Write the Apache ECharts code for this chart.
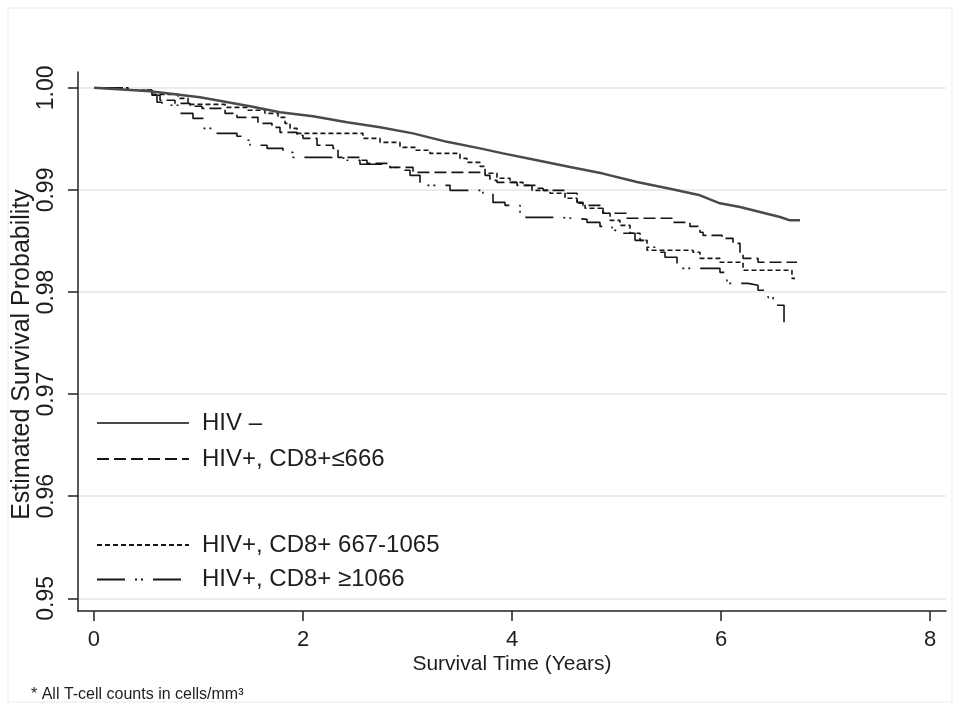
<!DOCTYPE html>
<html><head><meta charset="utf-8">
<script src="https://cdn.jsdelivr.net/npm/echarts@6/dist/echarts.min.js"></script>
<style>html,body{margin:0;padding:0;background:#fff}#c{width:959px;height:707px}</style>
</head><body><div id="c"></div>
<script>
const seriesNames = ['HIV –', 'HIV+, CD8+≤666', 'HIV+, CD8+ 667-1065', 'HIV+, CD8+ ≥1066'];
const xTicks = [0, 2, 4, 6, 8];
const yTicks = [0.95, 0.96, 0.97, 0.98, 0.99, 1.00];

const hivNegTime = [0, 0.536, 1.014, 1.493, 1.780, 2.096, 2.421, 2.737, 3.053, 3.378, 3.694, 3.914, 4.239, 4.555, 4.871, 5.196, 5.512, 5.799, 5.990, 6.182, 6.373, 6.565, 6.660, 6.756];
const hivNegSurv = [1.0, 0.99966, 0.99907, 0.99819, 0.99760, 0.99721, 0.99662, 0.99613, 0.99554, 0.99471, 0.99407, 0.99358, 0.99290, 0.99224, 0.99160, 0.99077, 0.99011, 0.98947, 0.98869, 0.98833, 0.98784, 0.98735, 0.98702, 0.98702];

const lowTime = [0, 0.325, 0.555, 0.632, 0.775, 0.919, 1.033, 1.254, 1.368, 1.569, 1.703, 1.780, 1.943, 2.000, 2.134, 2.287, 2.335, 2.545, 2.612, 2.833, 3.053, 3.742, 3.789, 3.856, 4.048, 4.239, 4.297, 4.526, 4.622, 4.679, 4.871, 5.100, 5.531, 5.703, 5.799, 5.828, 6.010, 6.115, 6.182, 6.211, 6.354, 6.727];
const lowSurv = [1.0, 0.99976, 0.99927, 0.99878, 0.99848, 0.99819, 0.99799, 0.99750, 0.99711, 0.99652, 0.99613, 0.99564, 0.99535, 0.99505, 0.99437, 0.99407, 0.99319, 0.99290, 0.99260, 0.99221, 0.99172, 0.99143, 0.99094, 0.99074, 0.99045, 0.99016, 0.98996, 0.98967, 0.98878, 0.98849, 0.98771, 0.98722, 0.98682, 0.98643, 0.98585, 0.98555, 0.98526, 0.98477, 0.98379, 0.98330, 0.98291, 0.98291];

const midTime = [0, 0.325, 0.555, 0.804, 0.900, 1.254, 1.474, 1.636, 1.761, 1.828, 1.876, 1.943, 2.574, 2.737, 2.928, 3.072, 3.215, 3.502, 3.569, 3.694, 3.742, 3.856, 3.981, 4.105, 4.191, 4.364, 4.507, 4.622, 4.699, 4.871, 4.938, 5.033, 5.129, 5.225, 5.292, 5.732, 5.799, 5.990, 6.211, 6.679, 6.708];
const midSurv = [1.0, 0.99976, 0.99936, 0.99897, 0.99838, 0.99809, 0.99780, 0.99750, 0.99711, 0.99652, 0.99603, 0.99554, 0.99505, 0.99466, 0.99417, 0.99388, 0.99358, 0.99309, 0.99270, 0.99231, 0.99163, 0.99114, 0.99074, 0.99045, 0.98996, 0.98967, 0.98918, 0.98869, 0.98820, 0.98771, 0.98702, 0.98653, 0.98575, 0.98506, 0.98409, 0.98389, 0.98330, 0.98291, 0.98213, 0.98134, 0.98134];

const highTime = [0, 0.325, 0.555, 0.603, 0.651, 0.823, 0.947, 1.043, 1.177, 1.368, 1.426, 1.493, 1.656, 1.809, 1.904, 2.258, 2.421, 2.545, 2.804, 2.900, 3.024, 3.120, 3.407, 3.722, 3.818, 3.933, 4.077, 4.459, 4.718, 4.842, 4.957, 5.062, 5.177, 5.273, 5.368, 5.464, 5.579, 5.990, 6.057, 6.258, 6.354, 6.450, 6.498, 6.603];
const highSurv = [1.0, 0.99976, 0.99927, 0.99858, 0.99829, 0.99750, 0.99701, 0.99603, 0.99554, 0.99525, 0.99486, 0.99437, 0.99407, 0.99368, 0.99319, 0.99310, 0.99290, 0.99251, 0.99221, 0.99192, 0.99143, 0.99045, 0.98996, 0.98967, 0.98878, 0.98849, 0.98731, 0.98712, 0.98682, 0.98643, 0.98604, 0.98575, 0.98506, 0.98438, 0.98389, 0.98340, 0.98232, 0.98193, 0.98085, 0.98066, 0.98017, 0.97948, 0.97870, 0.97703];

const zip = (a, b) => a.map((v, i) => [v, b[i]]);
const regular = "'Liberation Sans', Arial, sans-serif";
const txt = '#1e1e1e';

const legendCommon = {
  orient: 'vertical', left: 96, padding: 0,
  itemWidth: 92, itemHeight: 24, selectedMode: false,
  itemStyle: {opacity: 0, borderWidth: 0},
  textStyle: {fontFamily: regular, fontSize: 24, color: txt, padding: [0, 0, 0, 8]}
};

const chart = echarts.init(document.getElementById('c'), null, {renderer: 'canvas'});
chart.setOption({
  animation: false,
  backgroundColor: '#fff',
  graphic: [{
    type: 'rect', shape: {x: 8, y: 8, width: 944, height: 694},
    style: {fill: 'none', stroke: '#e9e9e9', lineWidth: 1}, silent: true
  }],
  title: {
    text: '* All T-cell counts in cells/mm³',
    left: 26, top: 682,
    textStyle: {fontFamily: regular, fontSize: 16, fontWeight: 'normal', color: txt}
  },
  grid: {left: 78, right: 13, top: 72, bottom: 96, containLabel: false, outerBoundsMode: 'none'},
  xAxis: {
    type: 'value', min: -0.153, max: 8.153,
    name: 'Survival Time (Years)', nameLocation: 'middle', nameGap: 43, nameMoveOverlap: false,
    nameTextStyle: {fontFamily: regular, fontSize: 21, color: txt},
    axisLine: {show: true, onZero: false, lineStyle: {color: '#222', width: 1.5}},
    axisTick: {show: true, customValues: xTicks, length: 10, lineStyle: {color: '#222', width: 1.5}},
    axisLabel: {customValues: xTicks, margin: 18, fontFamily: regular, fontSize: 22, color: txt},
    splitLine: {show: false}
  },
  yAxis: {
    type: 'value', min: 0.94876, max: 1.00155,
    name: 'Estimated Survival Probability', nameLocation: 'middle', nameGap: 43, nameRotate: 90, nameMoveOverlap: false,
    nameTextStyle: {fontFamily: regular, fontSize: 25, color: txt, padding: [0, 26, 0, 0]},
    axisLine: {show: true, onZero: false, lineStyle: {color: '#222', width: 1.5}},
    axisTick: {show: true, customValues: yTicks, length: 10, lineStyle: {color: '#222', width: 1.5}},
    axisLabel: {customValues: yTicks, rotate: 90, margin: 20, fontFamily: regular, fontSize: 23, color: txt,
      formatter: v => Number(v).toFixed(2)},
    splitLine: {show: true, lineStyle: {color: '#e6e6e6', width: 1.5}}
  },
  legend: [
    Object.assign({}, legendCommon, {data: [seriesNames[0], seriesNames[1]], top: 411, itemGap: 12}),
    Object.assign({}, legendCommon, {data: [seriesNames[2], seriesNames[3]], top: 533, itemGap: 10.5})
  ],
  series: [{
    name: seriesNames[0], type: 'line', symbol: 'none', data: zip(hivNegTime, hivNegSurv),
    lineStyle: {color: '#4a4a4a', width: 2.5, type: 'solid'}, itemStyle: {color: '#4a4a4a'}, z: 5
  }, {
    name: seriesNames[1], type: 'line', symbol: 'none', step: 'end', data: zip(lowTime, lowSurv),
    lineStyle: {color: '#151515', width: 1.6, type: [12, 5]}, itemStyle: {color: '#151515'}
  }, {
    name: seriesNames[2], type: 'line', symbol: 'none', step: 'end', data: zip(midTime, midSurv),
    lineStyle: {color: '#151515', width: 1.6, type: [5, 3]}, itemStyle: {color: '#151515'}
  }, {
    name: seriesNames[3], type: 'line', symbol: 'none', step: 'end', data: zip(highTime, highSurv),
    lineStyle: {color: '#151515', width: 1.6, type: [28, 10, 2, 4, 2, 10]}, itemStyle: {color: '#151515'}
  }]
});
</script></body></html>
